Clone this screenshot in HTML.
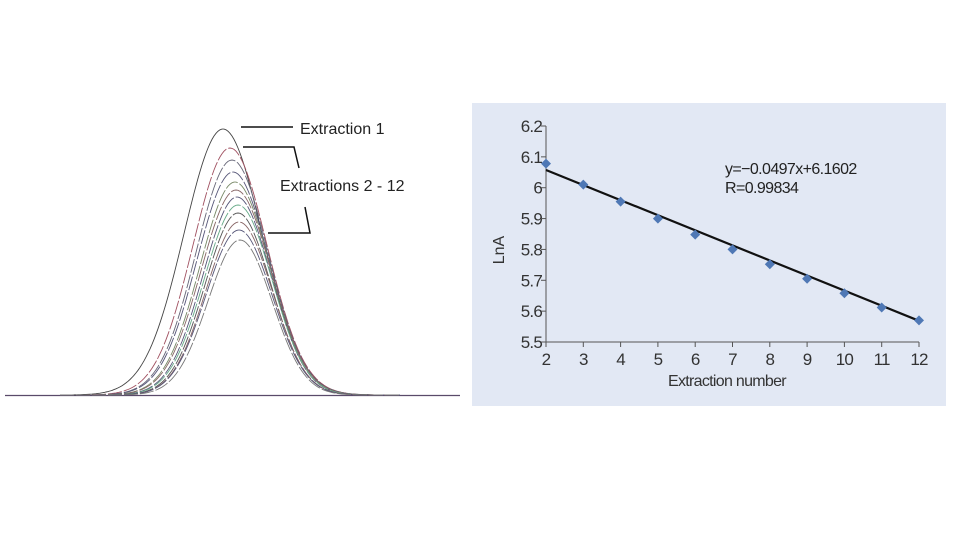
<!DOCTYPE html>
<html><head><style>body{margin:0;background:#fff}svg{display:block}</style></head><body>
<svg width="960" height="540" xmlns="http://www.w3.org/2000/svg" font-family="Liberation Sans, sans-serif">
<rect width="960" height="540" fill="#fff"/>
<line x1="5" y1="395.5" x2="460" y2="395.5" stroke="#5a4a6a" stroke-width="1.2"/>
<g id="curves"></g>
<script>
(function(){
var g=document.getElementById('curves');var ns='http://www.w3.org/2000/svg';
var peaks=[[223,129,39,'#444'],[230,148,37,'#a05060'],[232,160,36,'#667'],[233,172,36,'#557'],[235,182,35,'#786'],[236,190,35,'#866'],[237,197,34,'#557'],[238,205,34,'#6a8'],[238,213,33,'#555'],[239,222,33,'#866'],[239,230,33,'#557'],[240,240,32,'#777']];
peaks.forEach(function(p,i){var d='';for(var x=60;x<=400;x+=2){var y=395-(395-p[1])*Math.exp(-Math.pow(x-p[0],2)/(2*p[2]*p[2]));d+=(x==60?'M':'L')+x+' '+y.toFixed(1);}
var e=document.createElementNS(ns,'path');e.setAttribute('d',d);e.setAttribute('fill','none');e.setAttribute('stroke',p[3]);e.setAttribute('stroke-width','0.9');if(i>0)e.setAttribute('stroke-dasharray','14 2');g.appendChild(e);});
})();
</script>
<g stroke="#111" stroke-width="1.5" fill="none">
<line x1="241" y1="127" x2="293" y2="127"/>
<polyline points="243,147 294,147 299,168"/>
<polyline points="305,207 310,233 268,233"/>
</g>
<text x="300" y="134" font-size="16" fill="#222">Extraction 1</text>
<text x="280" y="191" font-size="16" fill="#222">Extractions 2 - 12</text>
<rect x="472" y="103" width="474" height="303" fill="#e2e8f4"/>
<g stroke="#555" stroke-width="1">
<line x1="546" y1="126" x2="546" y2="342"/>
<line x1="546" y1="342" x2="919" y2="342"/>
</g>
<g id="ax" font-size="17" fill="#333" letter-spacing="-0.8"></g>
<line x1="546" y1="170" x2="919" y2="320.8" stroke="#111" stroke-width="2.2"/>
<g id="pts" fill="#4f78b5"></g>
<text x="725" y="174" font-size="16" fill="#222" letter-spacing="-0.6">y=−0.0497x+6.1602</text>
<text x="725" y="193" font-size="16" fill="#222" letter-spacing="-0.6">R=0.99834</text>
<text x="668" y="386" font-size="16" fill="#333" letter-spacing="-0.7">Extraction number</text>
<text transform="translate(504,250) rotate(-90)" font-size="16" fill="#333" text-anchor="middle">LnA</text>
<script>
(function(){var ns='http://www.w3.org/2000/svg';var ax=document.getElementById('ax');var pts=document.getElementById('pts');
function X(v){return 546+(v-2)*37.3}function Y(v){return 342-(v-5.5)/0.7*216}
var yl=['5.5','5.6','5.7','5.8','5.9','6','6.1','6.2'];
yl.forEach(function(s,i){var y=Y(5.5+i*0.1);var t=document.createElementNS(ns,'text');t.setAttribute('x',542);t.setAttribute('y',y+6);t.setAttribute('text-anchor','end');t.textContent=s;ax.appendChild(t);
var l=document.createElementNS(ns,'line');l.setAttribute('x1',541);l.setAttribute('x2',546);l.setAttribute('y1',y);l.setAttribute('y2',y);l.setAttribute('stroke','#555');ax.appendChild(l);});
for(var v=2;v<=12;v++){var x=X(v);var t=document.createElementNS(ns,'text');t.setAttribute('x',x);t.setAttribute('y',365);t.setAttribute('text-anchor','middle');t.textContent=v;ax.appendChild(t);
var l=document.createElementNS(ns,'line');l.setAttribute('x1',x);l.setAttribute('x2',x);l.setAttribute('y1',342);l.setAttribute('y2',347);l.setAttribute('stroke','#555');ax.appendChild(l);}
var d=[6.078,6.01,5.955,5.9,5.848,5.8,5.752,5.705,5.658,5.612,5.57];
d.forEach(function(v,i){var x=X(i+2),y=Y(v);var p=document.createElementNS(ns,'polygon');p.setAttribute('points',(x)+','+(y-5)+' '+(x+5)+','+y+' '+x+','+(y+5)+' '+(x-5)+','+y);pts.appendChild(p);});
})();
</script>
</svg>
</body></html>
